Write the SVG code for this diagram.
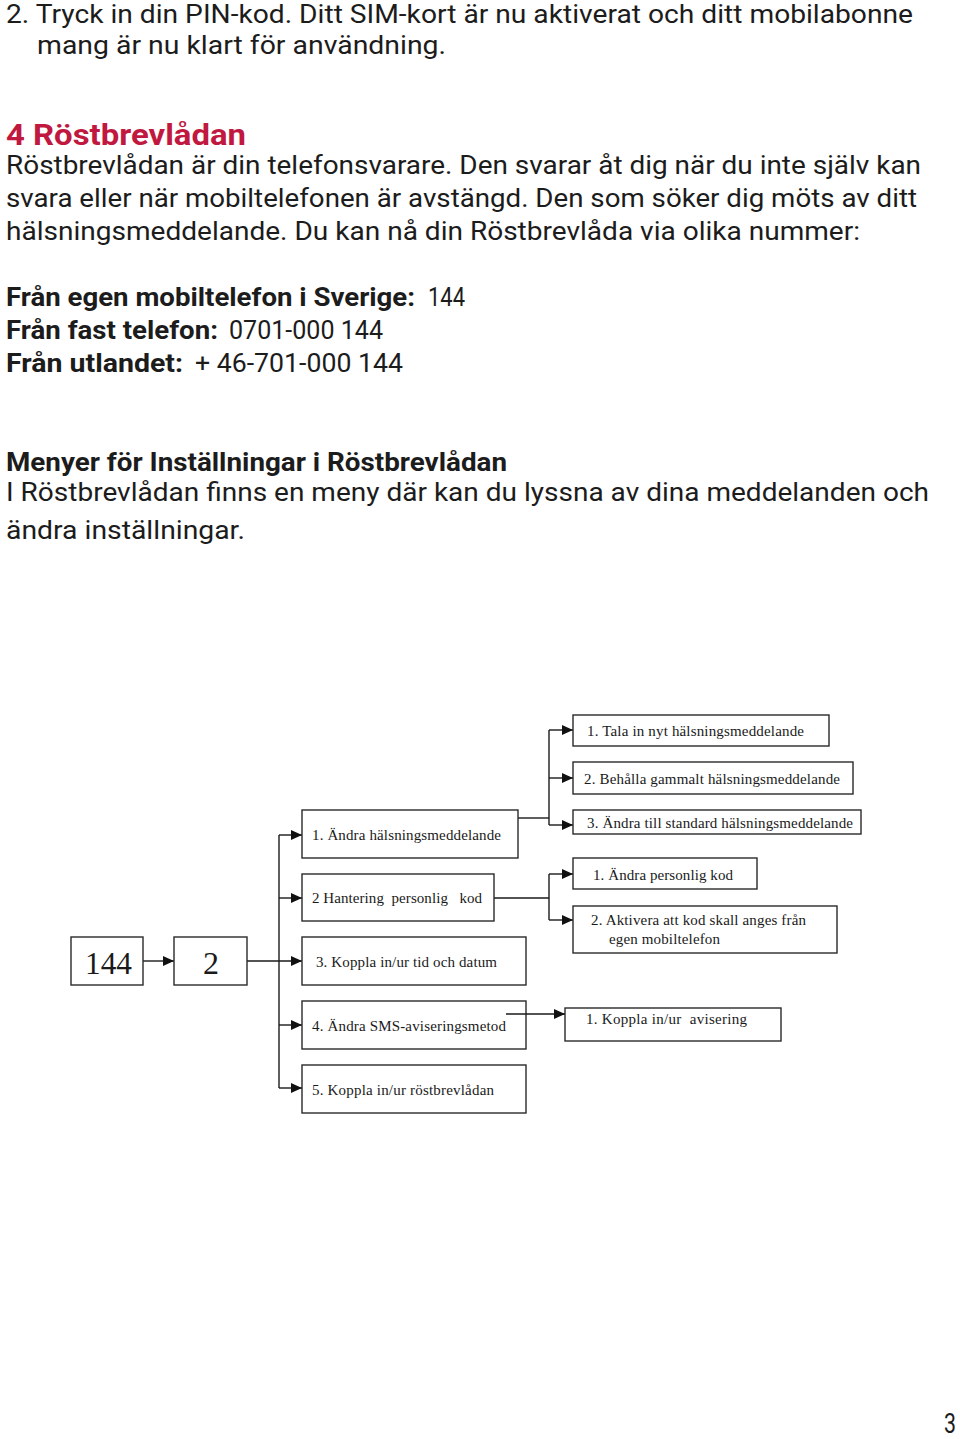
<svg xmlns="http://www.w3.org/2000/svg" width="960" height="1439" viewBox="0 0 960 1439">
<style>
.body{font-family:"Roboto","Liberation Sans",sans-serif;font-size:26px;fill:#1c1c1c}
.bold{font-weight:bold}
.title{font-family:"Roboto","Liberation Sans",sans-serif;font-size:30px;font-weight:bold;fill:#c0183f}
.box{fill:#fff;stroke:#2a2a2a;stroke-width:1.4}
.lbl{font-family:"Liberation Serif","Times New Roman",serif;font-size:15px;fill:#1a1a1a}
.big{font-family:"Liberation Serif","Times New Roman",serif;font-size:32px;fill:#1a1a1a}
.con{fill:none;stroke:#1a1a1a;stroke-width:1.4}
</style>
<defs>
<marker id="ah" viewBox="0 0 11 10" refX="11" refY="5" markerWidth="11" markerHeight="10" markerUnits="userSpaceOnUse" orient="auto">
<path d="M0,0 L11,5 L0,10 z" fill="#111"/>
</marker>
</defs>
<rect width="960" height="1439" fill="#fff"/>
<g id="text">
<text class="body" x="6" y="23" textLength="907" lengthAdjust="spacingAndGlyphs">2. Tryck in din PIN-kod. Ditt SIM-kort är nu aktiverat och ditt mobilabonne</text>
<text class="body" x="37" y="54" textLength="409" lengthAdjust="spacingAndGlyphs">mang är nu klart för användning.</text>
<text class="title" x="6" y="145" textLength="240" lengthAdjust="spacingAndGlyphs">4 Röstbrevlådan</text>
<text class="body" x="6" y="174" textLength="915" lengthAdjust="spacingAndGlyphs">Röstbrevlådan är din telefonsvarare. Den svarar åt dig när du inte själv kan</text>
<text class="body" x="6" y="207" textLength="911" lengthAdjust="spacingAndGlyphs">svara eller när mobiltelefonen är avstängd. Den som söker dig möts av ditt</text>
<text class="body" x="6" y="240" textLength="854" lengthAdjust="spacingAndGlyphs">hälsningsmeddelande. Du kan nå din Röstbrevlåda via olika nummer:</text>
<text class="body bold" x="6" y="306" textLength="409" lengthAdjust="spacingAndGlyphs">Från egen mobiltelefon i Sverige:</text>
<text class="body" x="428" y="306" textLength="37" lengthAdjust="spacingAndGlyphs">144</text>
<text class="body bold" x="6" y="339" textLength="212" lengthAdjust="spacingAndGlyphs">Från fast telefon:</text>
<text class="body" x="229" y="339" textLength="154" lengthAdjust="spacingAndGlyphs">0701-000 144</text>
<text class="body bold" x="6" y="372" textLength="177" lengthAdjust="spacingAndGlyphs">Från utlandet:</text>
<text class="body" x="195" y="372" textLength="208" lengthAdjust="spacingAndGlyphs">+ 46-701-000 144</text>
<text class="body bold" x="6" y="471" textLength="501" lengthAdjust="spacingAndGlyphs">Menyer för Inställningar i Röstbrevlådan</text>
<text class="body" x="6" y="501" textLength="923" lengthAdjust="spacingAndGlyphs">I Röstbrevlådan finns en meny där kan du lyssna av dina meddelanden och</text>
<text class="body" x="6" y="539" textLength="239" lengthAdjust="spacingAndGlyphs">ändra inställningar.</text>
<text class="body" x="944" y="1433" style="font-size:27px" textLength="12" lengthAdjust="spacingAndGlyphs">3</text>
</g>
<g id="connectors">
<line class="con" x1="143" y1="961" x2="174" y2="961" marker-end="url(#ah)"/>
<line class="con" x1="247" y1="961" x2="302" y2="961" marker-end="url(#ah)"/>
<line class="con" x1="279" y1="835" x2="279" y2="1088"/>
<line class="con" x1="279" y1="835" x2="302" y2="835" marker-end="url(#ah)"/>
<line class="con" x1="279" y1="898" x2="302" y2="898" marker-end="url(#ah)"/>
<line class="con" x1="279" y1="1025" x2="302" y2="1025" marker-end="url(#ah)"/>
<line class="con" x1="279" y1="1088" x2="302" y2="1088" marker-end="url(#ah)"/>
<line class="con" x1="518" y1="818" x2="549" y2="818"/>
<line class="con" x1="549" y1="730" x2="549" y2="825"/>
<line class="con" x1="549" y1="730" x2="573" y2="730" marker-end="url(#ah)"/>
<line class="con" x1="549" y1="778" x2="573" y2="778" marker-end="url(#ah)"/>
<line class="con" x1="549" y1="825" x2="573" y2="825" marker-end="url(#ah)"/>
<line class="con" x1="494" y1="898" x2="549" y2="898"/>
<line class="con" x1="549" y1="874" x2="549" y2="920"/>
<line class="con" x1="549" y1="874" x2="573" y2="874" marker-end="url(#ah)"/>
<line class="con" x1="549" y1="920" x2="573" y2="920" marker-end="url(#ah)"/>
</g>
<g id="n144"><rect class="box" x="71" y="937" width="72" height="48"/><text class="big" x="85" y="974" textLength="47" lengthAdjust="spacingAndGlyphs">144</text></g>
<g id="n2"><rect class="box" x="174" y="937" width="73" height="48"/><text class="big" x="211" y="974" text-anchor="middle">2</text></g>
<g id="m1"><rect class="box" x="302" y="810" width="216" height="48"/><text class="lbl" x="312" y="840" textLength="189" lengthAdjust="spacing">1. Ändra hälsningsmeddelande</text></g>
<g id="m2"><rect class="box" x="302" y="874" width="192" height="47"/><text class="lbl" x="312" y="903" textLength="170" lengthAdjust="spacing" xml:space="preserve">2 Hantering  personlig   kod</text></g>
<g id="m3"><rect class="box" x="302" y="937" width="224" height="48"/><text class="lbl" x="316" y="967" textLength="181" lengthAdjust="spacing">3. Koppla in/ur tid och datum</text></g>
<g id="m4"><rect class="box" x="302" y="1001" width="224" height="48"/><text class="lbl" x="312" y="1031" textLength="194" lengthAdjust="spacing">4. Ändra SMS-aviseringsmetod</text></g>
<g id="m5"><rect class="box" x="302" y="1065" width="224" height="48"/><text class="lbl" x="312" y="1095" textLength="182" lengthAdjust="spacing">5. Koppla in/ur röstbrevlådan</text></g>
<g id="r1"><rect class="box" x="573" y="715" width="256" height="31"/><text class="lbl" x="587" y="736" textLength="217" lengthAdjust="spacing">1. Tala in nyt hälsningsmeddelande</text></g>
<g id="r2"><rect class="box" x="573" y="762" width="280" height="32"/><text class="lbl" x="584" y="784" textLength="256" lengthAdjust="spacing">2. Behålla gammalt hälsningsmeddelande</text></g>
<g id="r3"><rect class="box" x="573" y="810" width="288" height="24"/><text class="lbl" x="587" y="828" textLength="266" lengthAdjust="spacing">3. Ändra till standard hälsningsmeddelande</text></g>
<g id="r4"><rect class="box" x="573" y="858" width="184" height="31"/><text class="lbl" x="593" y="880" textLength="140" lengthAdjust="spacing">1. Ändra personlig kod</text></g>
<g id="r5"><rect class="box" x="573" y="906" width="264" height="47"/><text class="lbl" x="591" y="925" textLength="215" lengthAdjust="spacing">2. Aktivera att kod skall anges från</text><text class="lbl" x="609" y="944" textLength="111" lengthAdjust="spacing">egen mobiltelefon</text></g>
<g id="r6"><rect class="box" x="565" y="1008" width="216" height="33"/><text class="lbl" x="586" y="1024" textLength="161" lengthAdjust="spacing" xml:space="preserve">1. Koppla in/ur  avisering</text></g>
<g id="connectors2">
<line class="con" x1="506" y1="1014" x2="565" y2="1014" marker-end="url(#ah)"/>
</g>
</svg>
